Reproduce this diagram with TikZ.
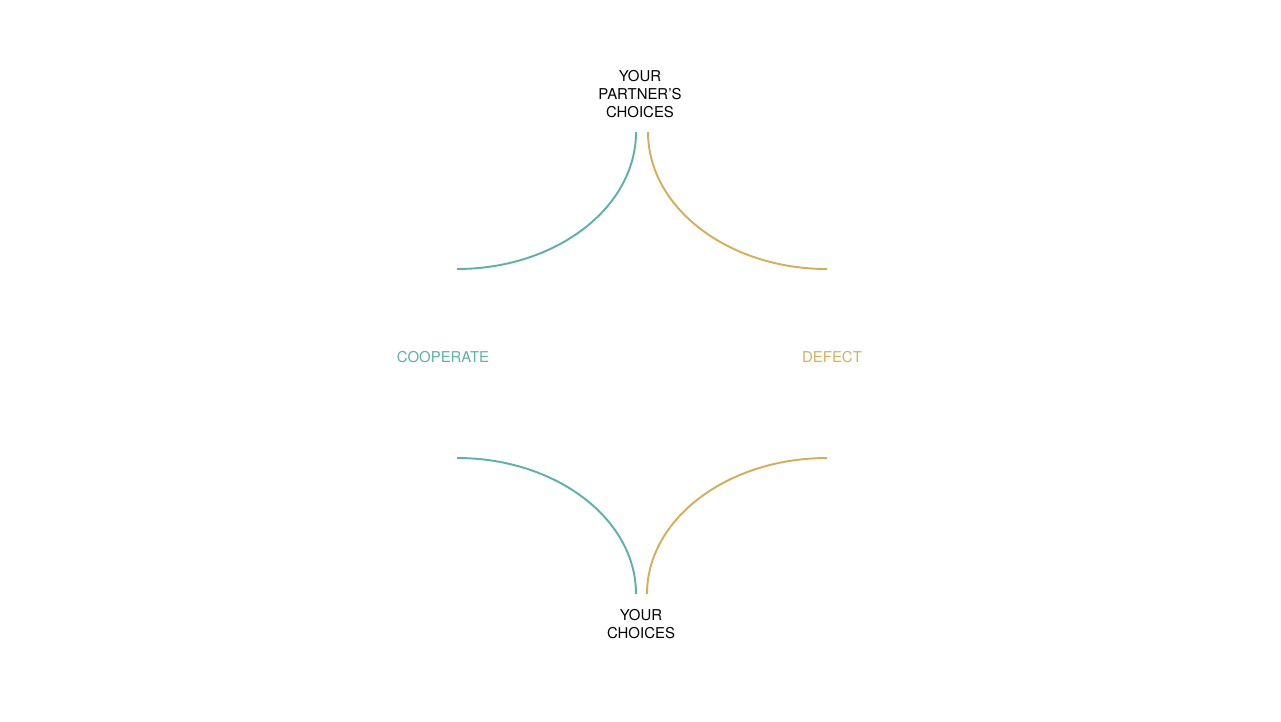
\documentclass[tikz,border=0pt]{standalone}
\usepackage{fontspec}
\setmainfont{TeX Gyre Heros}
\usepackage{tikz}
\usetikzlibrary{positioning}

\definecolor{coopcol}{RGB}{90,178,168}
\definecolor{defcol}{RGB}{214,174,88}

\begin{document}
\begin{tikzpicture}[x=0.02cm, y=0.02cm,
        label/.style={font=\fontsize{8.5}{10.2}\selectfont, align=center, inner sep=0pt},
        coopline/.style={coopcol, line width=1.1pt},
        defline/.style={defcol, line width=1.1pt}]
        \useasboundingbox (0,0) rectangle (1281,-721);

        \node[label] (partner) at (640,-94) {YOUR\\PARTNER'S\\CHOICES};
        \node[label] (you) at (641,-624) {YOUR\\CHOICES};
        \node[label, coopcol] (coop) at (443,-357) {COOPERATE};
        \node[label, defcol] (defect) at (832,-357) {DEFECT};

        \coordinate (CT) at (636,-132);
        \coordinate (DT) at (648,-132);
        \coordinate (CB) at (457,-458);
        \coordinate (DB) at (827,-458);

        % upper arcs
        \draw[coopline] (CT) arc[start angle=0, end angle=-90, x radius=179, y radius=137];
        \draw[defline] (DT) arc[start angle=180, end angle=270, x radius=179, y radius=137];

        % lower arcs
        \draw[coopline] (CB) arc[start angle=90, end angle=0, x radius=179, y radius=136];
        \draw[defline] (DB) arc[start angle=90, end angle=180, x radius=180, y radius=136];
\end{tikzpicture}
\end{document}
